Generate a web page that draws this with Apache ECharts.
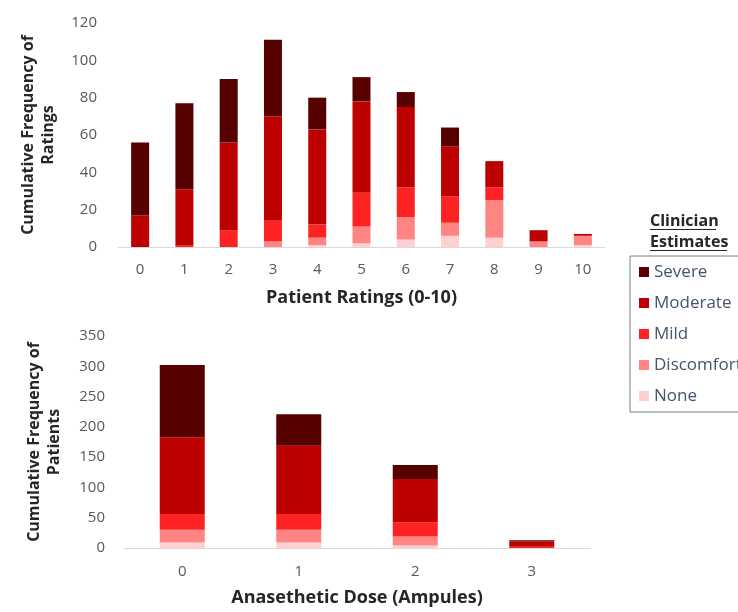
<!DOCTYPE html>
<html><head><meta charset="utf-8">
<script src="https://cdn.jsdelivr.net/npm/echarts@6/dist/echarts.min.js"></script>
<style>html,body{margin:0;padding:0;background:#fff}#c{width:738px;height:612px}</style>
</head><body><div id="c"></div>
<script>
// Top chart: patient ratings 0-10
const ratingCats = ['0','1','2','3','4','5','6','7','8','9','10'];
const rNone       = [0, 0, 0, 0, 1, 2, 4, 6, 5, 0, 1];
const rDiscomfort = [0, 0, 0, 3, 4, 9, 12, 7, 20, 3, 5];
const rMild       = [0, 1, 9, 11, 7, 18, 16, 14, 7, 0, 0];
const rModerate   = [17, 30, 47, 56, 51, 49, 43, 27, 14, 6, 1];
const rSevere     = [39, 46, 34, 41, 17, 13, 8, 10, 0, 0, 0];
const ratingTicks = [0, 20, 40, 60, 80, 100, 120];

// Bottom chart: anaesthetic dose
const doseCats = ['0','1','2','3'];
const dNone       = [9, 9, 4, 0];
const dDiscomfort = [21, 21, 15, 0];
const dMild       = [26, 26, 23, 2];
const dModerate   = [127, 113, 72, 9];
const dSevere     = [119, 52, 23, 2];
const doseTicks = [0, 50, 100, 150, 200, 250, 300, 350];

const levels = ['Severe','Moderate','Mild','Discomfort','None'];
const colors = {Severe:'#560000', Moderate:'#bd0000', Mild:'#ff2222', Discomfort:'#ff8585', None:'#ffcfd2'};

const FONT = 'Open Sans';
const yNameStyle = {fontFamily: FONT, fontWeight: 'bold', fontSize: 16, color: '#262626', lineHeight: 20};
const xNameStyle = {fontFamily: FONT, fontWeight: 'bold', fontSize: 18, color: '#262626', lineHeight: 20};
const labelStyle = {fontFamily: FONT, fontSize: 15, color: '#595959'};

function mk(name, data, idx, stack, bw) {
  return {name, type: 'bar', stack, data, xAxisIndex: idx, yAxisIndex: idx,
    barWidth: bw, itemStyle: {color: colors[name]}, emphasis: {disabled: true}};
}

const chart = echarts.init(document.getElementById('c'), null, {renderer: 'canvas'});
chart.setOption({
  animation: false,
  grid: [
    {left: 118, right: 133, top: 23, bottom: 365},
    {left: 124, right: 148, top: 336, bottom: 64}
  ],
  xAxis: [
    {type: 'category', gridIndex: 0, data: ratingCats,
     name: 'Patient Ratings (0-10)', nameLocation: 'middle', nameGap: 41, nameTextStyle: xNameStyle,
     axisLine: {lineStyle: {color: '#d9d9d9'}}, axisTick: {show: false},
     axisLabel: Object.assign({margin: 15}, labelStyle)},
    {type: 'category', gridIndex: 1, data: doseCats,
     name: 'Anasethetic Dose (Ampules)', nameLocation: 'middle', nameGap: 40, nameTextStyle: xNameStyle,
     axisLine: {lineStyle: {color: '#d9d9d9'}}, axisTick: {show: false},
     axisLabel: Object.assign({margin: 16}, labelStyle)}
  ],
  yAxis: [
    {type: 'value', gridIndex: 0, min: ratingTicks[0], max: ratingTicks[ratingTicks.length-1], interval: ratingTicks[1]-ratingTicks[0],
     name: 'Cumulative Frequency of\nRatings', nameLocation: 'middle', nameGap: 60, nameTextStyle: yNameStyle,
     axisLine: {show: false}, axisTick: {show: false}, splitLine: {show: false},
     axisLabel: Object.assign({margin: 21}, labelStyle)},
    {type: 'value', gridIndex: 1, min: doseTicks[0], max: doseTicks[doseTicks.length-1], interval: doseTicks[1]-doseTicks[0],
     name: 'Cumulative Frequency of\nPatients', nameLocation: 'middle', nameGap: 60, nameTextStyle: yNameStyle,
     axisLine: {show: false}, axisTick: {show: false}, splitLine: {show: false},
     axisLabel: Object.assign({margin: 19}, labelStyle)}
  ],
  legend: {
    data: levels, orient: 'vertical', left: 630, top: 256,
    itemWidth: 10, itemHeight: 10, itemGap: 11, icon: 'rect',
    padding: [6, 12, 6, 9], borderColor: '#7f7f7f', borderWidth: 1,
    textStyle: {fontFamily: FONT, fontSize: 17, lineHeight: 20, color: '#44546a', padding: [0, 0, 0, 0]},
    selectedMode: false
  },
  graphic: [
    {type: 'text', left: 650, top: 211, style: {text: 'Clinician\nEstimates', fontFamily: FONT, fontWeight: 'bold', fontSize: 16, lineHeight: 21, fill: '#262626'}},
    {type: 'line', shape: {x1: 650, y1: 229.5, x2: 716, y2: 229.5}, style: {stroke: '#262626', lineWidth: 1}},
    {type: 'line', shape: {x1: 650, y1: 250.5, x2: 727, y2: 250.5}, style: {stroke: '#262626', lineWidth: 1}}
  ],
  series: [
    mk('None', rNone, 0, 'r', 18),
    mk('Discomfort', rDiscomfort, 0, 'r', 18),
    mk('Mild', rMild, 0, 'r', 18),
    mk('Moderate', rModerate, 0, 'r', 18),
    mk('Severe', rSevere, 0, 'r', 18),
    mk('None', dNone, 1, 'd', 45),
    mk('Discomfort', dDiscomfort, 1, 'd', 45),
    mk('Mild', dMild, 1, 'd', 45),
    mk('Moderate', dModerate, 1, 'd', 45),
    mk('Severe', dSevere, 1, 'd', 45)
  ]
});
</script></body></html>
